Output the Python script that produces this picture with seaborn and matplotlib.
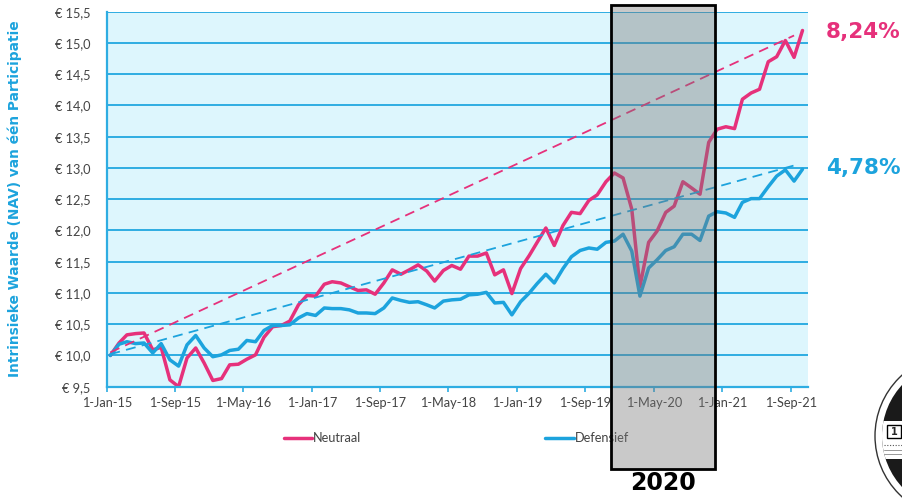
import numpy as np
import pandas as pd
import seaborn as sns
import matplotlib.pyplot as plt
import matplotlib.dates as mdates
import matplotlib.transforms as mtransforms
from matplotlib.patches import Rectangle, Circle
from matplotlib.ticker import FuncFormatter

# maandelijkse NAV per participatie, jan 2015 - okt 2021
neutraal = [10.00, 10.20, 10.33, 10.35, 10.36, 10.09, 10.13, 9.61, 9.50, 9.96,
            10.12, 9.88, 9.60, 9.63, 9.85, 9.86, 9.94, 10.01, 10.29, 10.46,
            10.48, 10.55, 10.81, 10.96, 10.95, 11.14, 11.18, 11.16, 11.10, 11.04,
            11.05, 10.98, 11.16, 11.37, 11.30, 11.37, 11.45, 11.35, 11.19, 11.36,
            11.44, 11.38, 11.59, 11.59, 11.64, 11.29, 11.37, 10.99, 11.39, 11.60,
            11.81, 12.04, 11.76, 12.08, 12.29, 12.27, 12.48, 12.57, 12.78, 12.92,
            12.84, 12.34, 11.10, 11.81, 11.99, 12.29, 12.39, 12.78, 12.68, 12.58,
            13.41, 13.62, 13.66, 13.63, 14.10, 14.20, 14.26, 14.70, 14.78, 15.04,
            14.77, 15.20]
defensief = [10.00, 10.18, 10.22, 10.19, 10.20, 10.04, 10.19, 9.93, 9.83, 10.17,
             10.32, 10.12, 9.98, 10.01, 10.08, 10.10, 10.24, 10.22, 10.40, 10.48,
             10.48, 10.49, 10.60, 10.67, 10.64, 10.76, 10.75, 10.75, 10.73, 10.68,
             10.68, 10.67, 10.76, 10.92, 10.88, 10.85, 10.86, 10.81, 10.76, 10.87,
             10.89, 10.90, 10.97, 10.98, 11.01, 10.84, 10.85, 10.65, 10.86, 11.00,
             11.15, 11.30, 11.16, 11.39, 11.58, 11.68, 11.72, 11.70, 11.81, 11.83,
             11.94, 11.67, 10.95, 11.40, 11.53, 11.68, 11.74, 11.94, 11.94, 11.84,
             12.23, 12.30, 12.28, 12.21, 12.45, 12.51, 12.51, 12.70, 12.87, 12.97,
             12.79, 12.98]
dates = pd.date_range('2015-01-01', periods=len(neutraal), freq='MS') + pd.Timedelta(days=12)

# trendlijnen (begin, eind)
trend_dates = [dates[0], dates[80]]
trend_neutraal = [10.05, 15.12]
trend_defensief = [10.02, 13.04]
rendement = ['8,24%', '4,78%']

# corona-jaar
hl_start, hl_end = pd.Timestamp('2019-12-01'), pd.Timestamp('2020-12-06')
hl_label = '2020'

tick_dates = pd.date_range('2015-01-01', '2021-09-01', freq='8MS')
tick_labels = [f"{d.day}-{d.strftime('%b')}-{d.strftime('%y')}" for d in tick_dates]

PINK = '#e6317b'
BLUE = '#1ca3dd'
GRID = '#2eade2'
TXT = '#444444'

sns.set_style('white')
plt.rcParams['font.family'] = ['Lato', 'DejaVu Sans']

fig = plt.figure(figsize=(9.02, 5.04), dpi=100)
ax = fig.add_axes([0.1186, 0.2327, 0.777, 0.744])
ax.set_facecolor('#ddf6fd')

df = pd.DataFrame({'datum': dates, 'Neutraal': neutraal, 'Defensief': defensief})
sns.lineplot(data=df, x='datum', y='Neutraal', color=PINK, lw=2.5, label='Neutraal', ax=ax)
sns.lineplot(data=df, x='datum', y='Defensief', color=BLUE, lw=2.5, label='Defensief', ax=ax)
sns.lineplot(x=trend_dates, y=trend_neutraal, color=PINK, lw=1.3,
             linestyle=(0, (5.5, 3.5)), ax=ax, legend=False)
sns.lineplot(x=trend_dates, y=trend_defensief, color=BLUE, lw=1.3,
             linestyle=(0, (5.5, 3.5)), ax=ax, legend=False)

ax.set_ylim(9.5, 15.5)
ax.set_yticks(np.arange(9.5, 15.51, 0.5))
ax.yaxis.set_major_formatter(FuncFormatter(lambda v, p: ('€ %.1f' % v).replace('.', ',')))
ax.set_xlim(pd.Timestamp('2015-01-01'), pd.Timestamp('2021-11-01'))
ax.set_xticks(tick_dates)
ax.set_xticklabels(tick_labels)
ax.set_xlabel('')
ax.set_ylabel('')
ax.grid(axis='y', color=GRID, lw=1.4)
ax.set_axisbelow(True)
for s in ['top', 'right']:
    ax.spines[s].set_visible(False)
for s in ['left', 'bottom']:
    ax.spines[s].set_color(GRID)
    ax.spines[s].set_linewidth(1.6)
ax.tick_params(axis='x', direction='out', length=3.5, width=1.2, color=GRID,
               labelcolor=TXT, labelsize=9.2, pad=4, bottom=True)
ax.tick_params(axis='y', length=0, labelcolor=TXT, labelsize=9.2, pad=12)

ax.legend(loc='center', bbox_to_anchor=(0.506, 0.131), bbox_transform=fig.transFigure,
          ncol=2, frameon=False, columnspacing=14.4, handlelength=2.2,
          handletextpad=0.1, prop={'size': 9.2}, labelcolor=TXT)

fig.text(15 / 902, 1 - 199 / 504, 'Intrinsieke Waarde (NAV) van één Participatie', rotation=90,
         ha='center', va='center', color=BLUE, fontsize=9.9, fontweight='bold',
         family='DejaVu Sans')

# grijs kader over 2020
trans = mtransforms.blended_transform_factory(ax.transData, fig.transFigure)
x0 = mdates.date2num(hl_start)
x1 = mdates.date2num(hl_end)
box = Rectangle((x0, 0.069), x1 - x0, 0.921, transform=trans,
                facecolor=(0.47, 0.47, 0.47, 0.4), edgecolor='black', lw=2,
                clip_on=False, zorder=10)
ax.add_patch(box)
ax.text((x0 + x1) / 2, 0.042, hl_label, transform=trans, ha='center', va='center',
        fontsize=17, fontweight='bold', family='DejaVu Sans', color='black')

fig.text(826 / 902, 1 - 32 / 504, rendement[0], color=PINK, fontsize=15.5,
         fontweight='bold', family='DejaVu Sans', ha='left', va='center')
fig.text(826 / 902, 1 - 168 / 504, rendement[1], color=BLUE, fontsize=15.5,
         fontweight='bold', family='DejaVu Sans', ha='left', va='center')

# risico-indicator logo rechtsonder (deels buiten beeld)
ov = fig.add_axes([0, 0, 1, 1], facecolor='none')
ov.set_xlim(0, 902)
ov.set_ylim(504, 0)
ov.axis('off')
ov.add_patch(Circle((957, 436), 82, facecolor='white', edgecolor='#333333', lw=1))
inner = Circle((957, 436), 75, facecolor='#1a1a1a', edgecolor='none')
ov.add_patch(inner)
band = Rectangle((870, 421), 40, 38, facecolor='white', edgecolor='none')
ov.add_patch(band)
band.set_clip_path(inner)
ov.add_patch(Rectangle((887, 425), 14, 13, facecolor='white', edgecolor='black', lw=1))
ov.text(894, 432, '1', ha='center', va='center', fontsize=7, fontweight='bold',
        family='DejaVu Sans')
ov.plot([884, 902], [445, 445], color='#555555', lw=0.8, ls=(0, (1, 1.5)))
ov.plot([884, 902], [450, 450], color='#888888', lw=0.6)
ov.plot([884, 902], [454, 454], color='#888888', lw=0.6)

fig.savefig('out.png', dpi=100)
